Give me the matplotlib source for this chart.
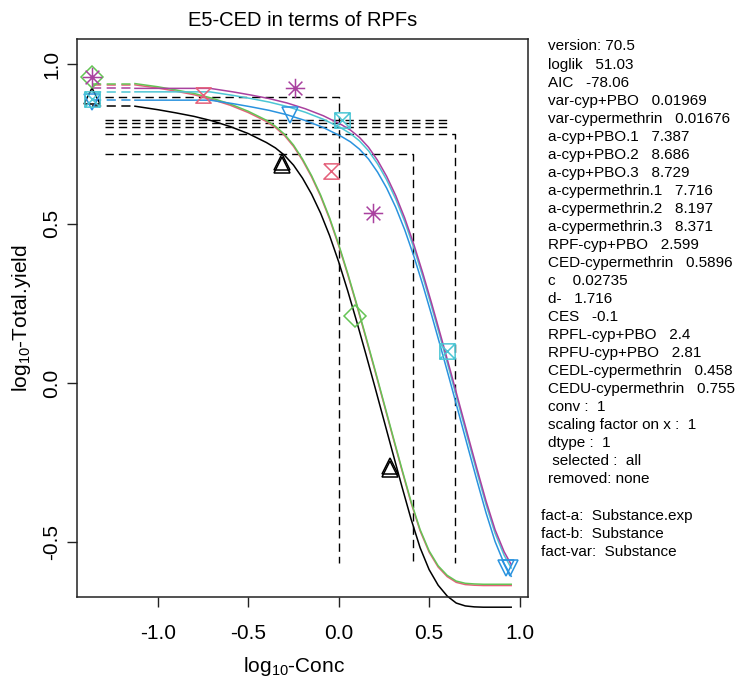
import matplotlib
matplotlib.use("Agg")
import matplotlib.pyplot as plt
from matplotlib.path import Path

plt.rcParams['font.family'] = ['Liberation Sans', 'DejaVu Sans']
plt.rcParams['mathtext.fontset'] = 'custom'
plt.rcParams['mathtext.rm'] = 'Liberation Sans'
plt.rcParams['axes.unicode_minus'] = False

# fitted curves (log10 scale)
ctrl_x = -1.365

# cyp+PBO subgroups (black, red, green)
pbo_x = [-1.127, -1.00, -0.90, -0.80, -0.70, -0.60, -0.50, -0.40, -0.35, -0.30,
         -0.25, -0.20, -0.15, -0.10, -0.05, 0.00, 0.05, 0.10, 0.15, 0.20,
         0.25, 0.30, 0.35, 0.40, 0.45, 0.50, 0.55, 0.60, 0.65, 0.70,
         0.75, 0.80, 0.954]
black_y = [0.869, 0.858, 0.848, 0.837, 0.823, 0.805, 0.783, 0.755, 0.738, 0.715,
           0.684, 0.643, 0.593, 0.533, 0.462, 0.380, 0.289, 0.192, 0.091, -0.012,
           -0.117, -0.222, -0.326, -0.427, -0.517, -0.586, -0.635, -0.669, -0.691, -0.700,
           -0.703, -0.704, -0.704]
green_y = [0.940, 0.930, 0.920, 0.909, 0.894, 0.876, 0.853, 0.825, 0.806, 0.781,
           0.747, 0.703, 0.651, 0.590, 0.518, 0.435, 0.344, 0.247, 0.146, 0.043,
           -0.062, -0.167, -0.271, -0.372, -0.460, -0.527, -0.574, -0.604, -0.622, -0.629,
           -0.631, -0.632, -0.632]
red_y = [0.936, 0.926, 0.916, 0.905, 0.890, 0.872, 0.849, 0.821, 0.802, 0.777,
         0.743, 0.699, 0.647, 0.586, 0.514, 0.431, 0.340, 0.243, 0.142, 0.039,
         -0.066, -0.171, -0.275, -0.376, -0.464, -0.531, -0.578, -0.608, -0.626, -0.633,
         -0.635, -0.636, -0.636]

# cypermethrin subgroups (blue, cyan, magenta)
cyp_x = [-1.127, -0.900, -0.712, -0.585, -0.485, -0.385, -0.285, -0.185, -0.085, 0.015,
         0.065, 0.115, 0.165, 0.215, 0.265, 0.315, 0.365, 0.415, 0.465, 0.515,
         0.565, 0.615, 0.665, 0.715, 0.765, 0.815, 0.865, 0.915, 0.954]
blue_y = [0.888, 0.888, 0.888, 0.877, 0.867, 0.856, 0.842, 0.824, 0.802, 0.774,
          0.757, 0.734, 0.703, 0.662, 0.612, 0.552, 0.481, 0.399, 0.308, 0.211,
          0.110, 0.007, -0.098, -0.203, -0.307, -0.408, -0.498, -0.567, -0.607]
cyan_y = [0.914, 0.914, 0.914, 0.903, 0.893, 0.882, 0.868, 0.850, 0.828, 0.800,
          0.783, 0.760, 0.729, 0.688, 0.638, 0.578, 0.507, 0.425, 0.334, 0.237,
          0.136, 0.033, -0.072, -0.177, -0.281, -0.382, -0.472, -0.541, -0.581]
magenta_y = [0.925, 0.925, 0.925, 0.914, 0.904, 0.893, 0.879, 0.861, 0.839, 0.811,
             0.794, 0.771, 0.740, 0.699, 0.649, 0.589, 0.518, 0.436, 0.345, 0.248,
             0.147, 0.044, -0.061, -0.166, -0.270, -0.371, -0.461, -0.530, -0.570]

# observed points
black_px = [-1.365, -0.315, -0.315, 0.282, 0.282]
black_py = [0.900, 0.695, 0.685, -0.260, -0.270]
red_px = [-0.751, -0.044]
red_py = [0.904, 0.665]
green_px = [-1.365, 0.088]
green_py = [0.962, 0.210]
blue_px = [-1.365, -0.271, 0.928, 0.950]
blue_py = [0.883, 0.841, -0.581, -0.581]
cyan_px = [-1.365, 0.017, 0.597]
cyan_py = [0.893, 0.825, 0.100]
magenta_px = [-1.365, -0.243, 0.188]
magenta_py = [0.962, 0.926, 0.534]

# CED reference lines
ref_x0 = -1.293
ref_y = [0.897, 0.825, 0.815, 0.804, 0.782, 0.720]
ref_x1 = [0.000, 0.608, 0.608, 0.608, 0.641, 0.410]
ref_drop = [True, False, False, False, True, True]
ref_ybot = -0.565

info = ["version: 70.5", "loglik   51.03", "AIC   -78.06", "var-cyp+PBO   0.01969",
        "var-cypermethrin   0.01676", "a-cyp+PBO.1   7.387", "a-cyp+PBO.2   8.686",
        "a-cyp+PBO.3   8.729", "a-cypermethrin.1   7.716", "a-cypermethrin.2   8.197",
        "a-cypermethrin.3   8.371", "RPF-cyp+PBO   2.599", "CED-cypermethrin   0.5896",
        "c    0.02735", "d-   1.716", "CES   -0.1", "RPFL-cyp+PBO   2.4", "RPFU-cyp+PBO   2.81",
        "CEDL-cypermethrin   0.458", "CEDU-cypermethrin   0.755", "conv :  1",
        "scaling factor on x :  1", "dtype :  1", " selected :  all", "removed: none"]
facts = ["fact-a:  Substance.exp", "fact-b:  Substance", "fact-var:  Substance"]

col_black = "black"
col_red = "#E5607A"
col_green = "#64C455"
col_blue = "#2A93DF"
col_cyan = "#4CC6D4"
col_magenta = "#A9419F"

hourglass = Path([(-1, 1), (1, 1), (-1, -1), (1, -1), (-1, 1)],
                 [Path.MOVETO, Path.LINETO, Path.LINETO, Path.LINETO, Path.LINETO])
boxx = Path([(-1, -1), (1, -1), (1, 1), (-1, 1), (-1, -1), (1, 1), (-1, 1), (1, -1)],
            [Path.MOVETO, Path.LINETO, Path.LINETO, Path.LINETO, Path.LINETO, Path.LINETO,
             Path.MOVETO, Path.LINETO])
star8 = Path([(0, -1), (0, 1), (-1, 0), (1, 0), (-0.707, -0.707), (0.707, 0.707),
              (-0.707, 0.707), (0.707, -0.707)],
             [Path.MOVETO, Path.LINETO] * 4)

fig = plt.figure(figsize=(7.4, 6.8), dpi=100)
ax = fig.add_axes([77 / 740, 83 / 680, 450.5 / 740, 558 / 680])

dash = (6, 3.6)
for y, x1, drop in zip(ref_y, ref_x1, ref_drop):
    xs = [ref_x0, x1]
    ys = [y, y]
    if drop:
        xs.append(x1)
        ys.append(ref_ybot)
    ax.plot(xs, ys, color="black", lw=1.0, dashes=dash)

curves = [(pbo_x, black_y, col_black), (pbo_x, red_y, col_red), (pbo_x, green_y, col_green),
          (cyp_x, blue_y, col_blue), (cyp_x, cyan_y, col_cyan), (cyp_x, magenta_y, col_magenta)]
for xs, ys, c in curves:
    ax.plot([ctrl_x, xs[0]], [ys[0], ys[0]], color=c, lw=1.1, dashes=dash)
    ax.plot(xs, ys, color=c, lw=1.1, clip_on=False)

pts = [(black_px, black_py, col_black, "^", 11), (red_px, red_py, col_red, hourglass, 11),
       (green_px, green_py, col_green, "D", 11), (blue_px, blue_py, col_blue, "v", 11),
       (cyan_px, cyan_py, col_cyan, boxx, 11), (magenta_px, magenta_py, col_magenta, star8, 14)]
for xs, ys, c, m, s in pts:
    ax.plot(xs, ys, linestyle="none", marker=m, markersize=s, markerfacecolor="none",
            markeredgecolor=c, markeredgewidth=1.1, clip_on=False)

ax.set_xlim(-1.4475, 1.0442)
ax.set_ylim(-0.672, 1.080)
ax.set_xticks([-1.0, -0.5, 0.0, 0.5, 1.0])
ax.set_yticks([-0.5, 0.0, 0.5, 1.0])
ax.set_xticklabels(["-1.0", "-0.5", "0.0", "0.5", "1.0"])
ax.set_yticklabels(["-0.5", "0.0", "0.5", "1.0"])
ax.tick_params(direction="out", length=7.2, width=1.0, labelsize=15, color="#222222")
ax.tick_params(axis="x", pad=12)
ax.tick_params(axis="y", pad=4, labelrotation=90)
for lab in ax.get_yticklabels():
    lab.set_va("center")
for sp in ax.spines.values():
    sp.set_linewidth(1.1)
    sp.set_color("#222222")

ax.set_title("E5-CED in terms of RPFs", fontsize=14.5, pad=9.7)
ax.set_xlabel(r"log$_{10}$-Conc", fontsize=15, labelpad=9, x=(294.5 - 77) / 450.5)
ax.set_ylabel(r"log$_{10}$-Total.yield", fontsize=15, labelpad=7)

for i, s in enumerate(info):
    fig.text(548 / 740, 1 - (50.5 + 18.04 * i) / 680, s, fontsize=11, va="baseline")
for i, s in enumerate(facts):
    fig.text(541 / 740, 1 - (50.5 + 18.04 * (26 + i)) / 680, s, fontsize=11, va="baseline")

fig.savefig("out.png", dpi=100)
